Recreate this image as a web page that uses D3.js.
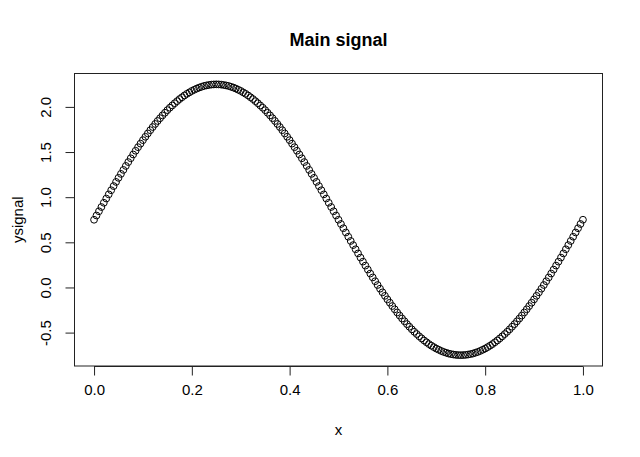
<!DOCTYPE html>
<html>
<head>
<meta charset="utf-8">
<script src="https://cdn.jsdelivr.net/npm/d3@7"></script>
<style>
  html, body { margin: 0; padding: 0; background: #fff; }
  svg { display: block; }
  text { font-family: "Liberation Sans", Arial, Helvetica, sans-serif; fill: #000; }
</style>
</head>
<body>
<script>
// ---- data ----
const xValues = [
  0.000,0.005,0.010,0.015,0.020,0.025,0.030,0.035,0.040,0.045,
  0.050,0.055,0.060,0.065,0.070,0.075,0.080,0.085,0.090,0.095,
  0.100,0.105,0.110,0.115,0.120,0.125,0.130,0.135,0.140,0.145,
  0.150,0.155,0.160,0.165,0.170,0.175,0.180,0.185,0.190,0.195,
  0.200,0.205,0.210,0.215,0.220,0.225,0.230,0.235,0.240,0.245,
  0.250,0.255,0.260,0.265,0.270,0.275,0.280,0.285,0.290,0.295,
  0.300,0.305,0.310,0.315,0.320,0.325,0.330,0.335,0.340,0.345,
  0.350,0.355,0.360,0.365,0.370,0.375,0.380,0.385,0.390,0.395,
  0.400,0.405,0.410,0.415,0.420,0.425,0.430,0.435,0.440,0.445,
  0.450,0.455,0.460,0.465,0.470,0.475,0.480,0.485,0.490,0.495,
  0.500,0.505,0.510,0.515,0.520,0.525,0.530,0.535,0.540,0.545,
  0.550,0.555,0.560,0.565,0.570,0.575,0.580,0.585,0.590,0.595,
  0.600,0.605,0.610,0.615,0.620,0.625,0.630,0.635,0.640,0.645,
  0.650,0.655,0.660,0.665,0.670,0.675,0.680,0.685,0.690,0.695,
  0.700,0.705,0.710,0.715,0.720,0.725,0.730,0.735,0.740,0.745,
  0.750,0.755,0.760,0.765,0.770,0.775,0.780,0.785,0.790,0.795,
  0.800,0.805,0.810,0.815,0.820,0.825,0.830,0.835,0.840,0.845,
  0.850,0.855,0.860,0.865,0.870,0.875,0.880,0.885,0.890,0.895,
  0.900,0.905,0.910,0.915,0.920,0.925,0.930,0.935,0.940,0.945,
  0.950,0.955,0.960,0.965,0.970,0.975,0.980,0.985,0.990,0.995,
  1.000
];
const ySignal = [
  0.750,0.797,0.844,0.891,0.938,0.985,1.031,1.077,1.123,1.169,
  1.214,1.258,1.302,1.346,1.389,1.431,1.473,1.514,1.554,1.593,
  1.632,1.669,1.706,1.742,1.777,1.811,1.844,1.875,1.906,1.935,
  1.964,1.991,2.016,2.041,2.064,2.087,2.107,2.127,2.145,2.161,
  2.177,2.190,2.203,2.214,2.223,2.232,2.238,2.243,2.247,2.249,
  2.250,2.249,2.247,2.243,2.238,2.232,2.223,2.214,2.203,2.190,
  2.177,2.161,2.145,2.127,2.107,2.087,2.064,2.041,2.016,1.991,
  1.964,1.935,1.906,1.875,1.844,1.811,1.777,1.742,1.706,1.669,
  1.632,1.593,1.554,1.514,1.473,1.431,1.389,1.346,1.302,1.258,
  1.214,1.169,1.123,1.077,1.031,0.985,0.938,0.891,0.844,0.797,
  0.750,0.703,0.656,0.609,0.562,0.515,0.469,0.423,0.377,0.331,
  0.286,0.242,0.198,0.154,0.111,0.069,0.027,-0.014,-0.054,-0.093,
  -0.132,-0.169,-0.206,-0.242,-0.277,-0.311,-0.344,-0.375,-0.406,-0.435,
  -0.464,-0.491,-0.516,-0.541,-0.564,-0.587,-0.607,-0.627,-0.645,-0.661,
  -0.677,-0.690,-0.703,-0.714,-0.723,-0.732,-0.738,-0.743,-0.747,-0.749,
  -0.750,-0.749,-0.747,-0.743,-0.738,-0.732,-0.723,-0.714,-0.703,-0.690,
  -0.677,-0.661,-0.645,-0.627,-0.607,-0.587,-0.564,-0.541,-0.516,-0.491,
  -0.464,-0.435,-0.406,-0.375,-0.344,-0.311,-0.277,-0.242,-0.206,-0.169,
  -0.132,-0.093,-0.054,-0.014,0.027,0.069,0.111,0.154,0.198,0.242,
  0.286,0.331,0.377,0.423,0.469,0.515,0.562,0.609,0.656,0.703,
  0.750
];
const xTicks = [0.0, 0.2, 0.4, 0.6, 0.8, 1.0];
const yTicks = [-0.5, 0.0, 0.5, 1.0, 1.5, 2.0];
const titleText = "Main signal";
const xLabel = "x";
const yLabel = "ysignal";

// ---- layout ----
const W = 640, H = 457;
const box = { left: 74.5, right: 602.5, top: 73.5, bottom: 366 };

const svg = d3.select("body").append("svg")
  .attr("width", W).attr("height", H);

// R-style 4% range extension
const xExt = d3.extent(xValues), yExt = d3.extent(ySignal);
const xPad = (xExt[1] - xExt[0]) * 0.04, yPad = (yExt[1] - yExt[0]) * 0.04;
const x = d3.scaleLinear().domain([xExt[0] - xPad, xExt[1] + xPad]).range([box.left, box.right]);
const y = d3.scaleLinear().domain([yExt[0] - yPad, yExt[1] + yPad]).range([box.bottom, box.top]);

const fmt = d3.format(".1f");
const minus = s => s.replace("−", "-");

// x axis (R style: line spanning first to last tick)
const xAxis = d3.axisBottom(x).tickValues(xTicks).tickSize(9).tickPadding(9)
  .tickFormat(d => minus(fmt(d)));
const gx = svg.append("g").attr("transform", `translate(0,${box.bottom + 0.5})`).call(xAxis);
gx.select(".domain").attr("d", `M${x(xTicks[0])},0H${x(xTicks[xTicks.length - 1])}`);
gx.selectAll("line, path").attr("stroke", "#222").attr("stroke-width", 1);
gx.selectAll("text").attr("font-size", 15).attr("fill", "#000")
  .attr("font-family", '"Liberation Sans", Arial, sans-serif');

// y axis
const yAxis = d3.axisLeft(y).tickValues(yTicks).tickSize(9).tickPadding(0)
  .tickFormat(d => minus(fmt(d)));
const gy = svg.append("g").attr("transform", `translate(${box.left},0)`).call(yAxis);
gy.select(".domain").attr("d", `M0,${y(yTicks[0])}V${y(yTicks[yTicks.length - 1])}`);
gy.selectAll("line, path").attr("stroke", "#222").attr("stroke-width", 1);
gy.selectAll("text")
  .attr("font-size", 15).attr("fill", "#000")
  .attr("font-family", '"Liberation Sans", Arial, sans-serif')
  .attr("x", null).attr("dy", null)
  .attr("text-anchor", "middle")
  .attr("transform", "translate(-29,0) rotate(-90)")
  .attr("dy", "0.35em");

// plot box
svg.append("rect")
  .attr("x", box.left).attr("y", box.top)
  .attr("width", box.right - box.left).attr("height", box.bottom - box.top)
  .attr("fill", "none").attr("stroke", "#222").attr("stroke-width", 1);

// points
svg.append("g").selectAll("circle")
  .data(xValues.map((d, i) => [d, ySignal[i]]))
  .join("circle")
  .attr("cx", d => x(d[0]))
  .attr("cy", d => y(d[1]))
  .attr("r", 3.4)
  .attr("fill", "none")
  .attr("stroke", "#000")
  .attr("stroke-width", 1);

// title & labels
svg.append("text")
  .attr("x", (box.left + box.right) / 2).attr("y", 40)
  .attr("text-anchor", "middle").attr("dy", "0.35em")
  .attr("font-size", 18).attr("font-weight", "bold")
  .text(titleText);

svg.append("text")
  .attr("x", (box.left + box.right) / 2).attr("y", 430)
  .attr("text-anchor", "middle").attr("dy", "0.35em")
  .attr("font-size", 15)
  .text(xLabel);

svg.append("text")
  .attr("transform", `translate(18,${(box.top + box.bottom) / 2}) rotate(-90)`)
  .attr("text-anchor", "middle").attr("dy", "0.35em")
  .attr("font-size", 15)
  .text(yLabel);
</script>
</body>
</html>
